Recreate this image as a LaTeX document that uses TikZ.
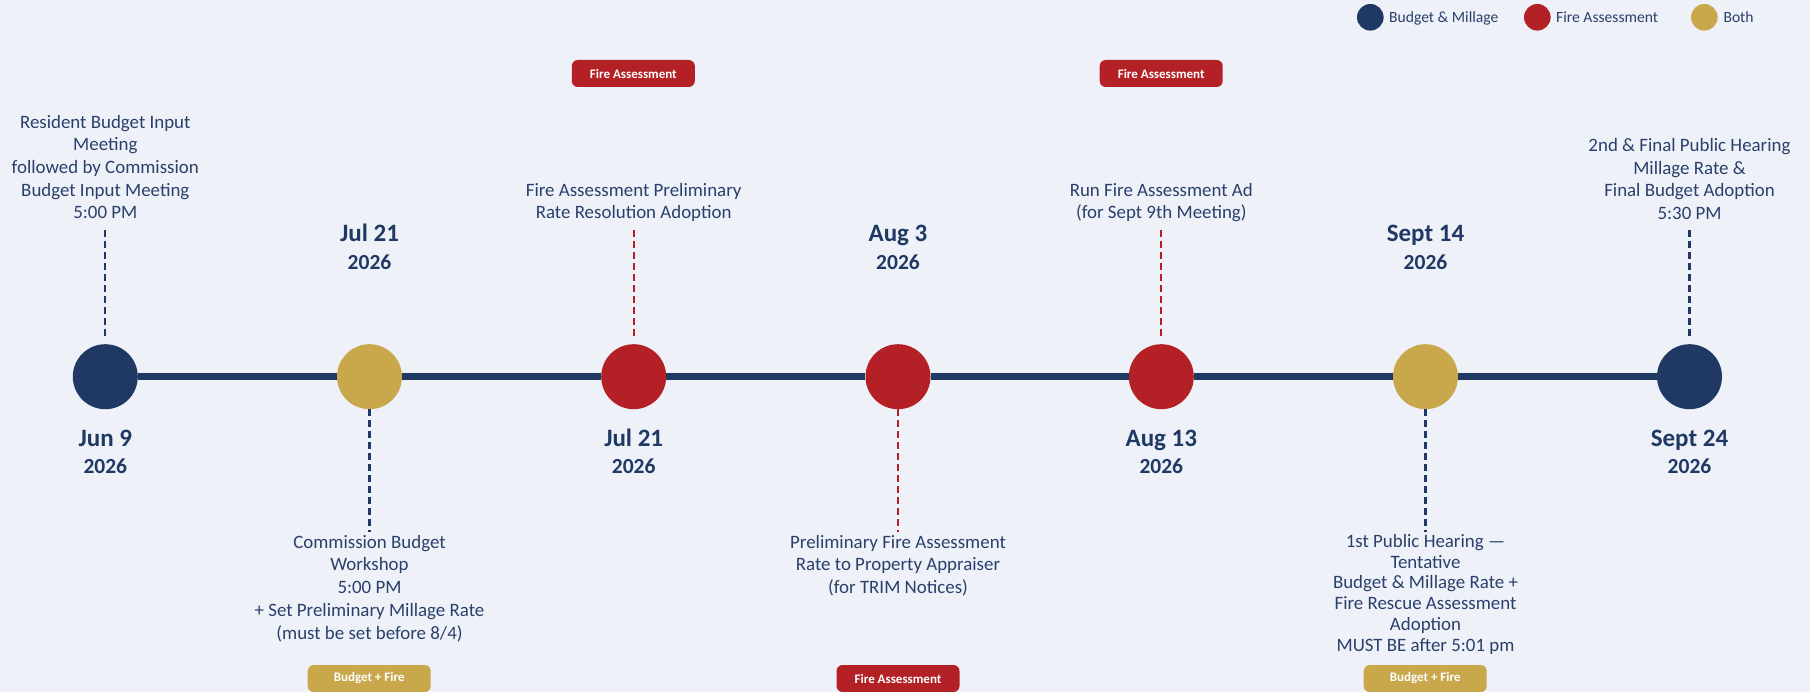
\documentclass[tikz,border=0pt]{standalone}
\usepackage{fontspec}
\setmainfont{Carlito}
\definecolor{bg}{HTML}{EEF2F8}
\definecolor{navy}{HTML}{1F3864}
\definecolor{bodyc}{HTML}{2A3F6B}
\definecolor{fire}{HTML}{B32025}
\definecolor{gold}{HTML}{C9A84C}
\begin{document}
\begin{tikzpicture}[x=1pt,y=-1pt,
  dot/.style={circle, minimum size=65pt, inner sep=0pt, draw=none},
  ldot/.style={circle, minimum size=26.6pt, inner sep=0pt, draw=none},
  body/.style={font=\fontsize{18.9}{22.7}\selectfont, text=bodyc, align=center, inner sep=0pt, anchor=base},
  legtext/.style={font=\fontsize{15.6}{18}\selectfont, text=bodyc, inner sep=0pt, anchor=base west},
  datebig/.style={font=\bfseries\fontsize{25}{30}\selectfont, text=navy, anchor=base, inner sep=0pt},
  yeartext/.style={font=\bfseries\fontsize{21.5}{26}\selectfont, text=navy, anchor=base, inner sep=0pt},
  badge/.style={rounded corners=6pt, minimum width=123pt, minimum height=27pt, inner sep=0pt, text=white, font=\bfseries\fontsize{13}{15}\selectfont},
  conn/.style={dash pattern=on 7pt off 4pt, line width=2.2pt},
  tl/.style={line width=7pt, draw=navy}
]
\useasboundingbox (0,0) rectangle (1810,692);
\fill[bg] (0,0) rectangle (1810,692);

% legend
\node[ldot, fill=navy] (l1) at (1370.3,17.3) {};
\node[legtext] (lt1) at (1389,22.5) {Budget \& Millage};
\node[ldot, fill=fire] (l2) at (1537.3,17.3) {};
\node[legtext] (lt2) at (1556,22.5) {Fire Assessment};
\node[ldot, fill=gold] (l3) at (1704.3,17.3) {};
\node[legtext] (lt3) at (1723.3,22.5) {Both};

% circles
\node[dot, fill=navy] (c0) at (105.3,376.7) {};
\node[dot, fill=gold] (c1) at (369.5,376.7) {};
\node[dot, fill=fire] (c2) at (633.7,376.7) {};
\node[dot, fill=fire] (c3) at (898,376.7) {};
\node[dot, fill=fire] (c4) at (1161.3,376.7) {};
\node[dot, fill=gold] (c5) at (1425.5,376.7) {};
\node[dot, fill=navy] (c6) at (1689.5,376.7) {};

% timeline
\draw[tl] (c0) -- (c1);
\draw[tl] (c1) -- (c2);
\draw[tl] (c2) -- (c3);
\draw[tl] (c3) -- (c4);
\draw[tl] (c4) -- (c5);
\draw[tl] (c5) -- (c6);

% dates below
\node[datebig] (d0) at (105.3,446.5) {Jun 9};
\node[yeartext] (y0) at (105.3,473.8) {2026};
\node[datebig] (d2) at (633.7,446.5) {Jul 21};
\node[yeartext] (y2) at (633.7,473.8) {2026};
\node[datebig] (d4) at (1161.3,446.5) {Aug 13};
\node[yeartext] (y4) at (1161.3,473.8) {2026};
\node[datebig] (d6) at (1689.5,446.5) {Sept 24};
\node[yeartext] (y6) at (1689.5,473.8) {2026};
% dates above
\node[datebig] (d1) at (369.5,242) {Jul 21};
\node[yeartext] (y1) at (369.5,269.3) {2026};
\node[datebig] (d3) at (898,242) {Aug 3};
\node[yeartext] (y3) at (898,269.3) {2026};
\node[datebig] (d5) at (1425.5,242) {Sept 14};
\node[yeartext] (y5) at (1425.5,269.3) {2026};

% top texts (anchor base = last line)
\node[body] (t0) at (105.3,219) {Resident Budget Input\\Meeting\\followed by Commission\\Budget Input Meeting\\5:00 PM};
\node[body] (t2) at (633.7,219) {Fire Assessment Preliminary\\Rate Resolution Adoption};
\node[body] (t4) at (1161.3,219) {Run Fire Assessment Ad\\(for Sept 9th Meeting)};
\node[body] (t6) at (1689.5,219.5) {2nd \& Final Public Hearing\\Millage Rate \&\\Final Budget Adoption\\5:30 PM};

% bottom texts
\node[body] (t1) at (369.5,639) {Commission Budget\\Workshop\\5:00 PM\\+ Set Preliminary Millage Rate\\(must be set before 8/4)};
\node[body] (t3) at (898,593.6) {Preliminary Fire Assessment\\Rate to Property Appraiser\\(for TRIM Notices)};
\node[body, font=\fontsize{18.9}{20.8}\selectfont] (t5) at (1425.5,651.2) {1st Public Hearing —\\Tentative\\Budget \& Millage Rate +\\Fire Rescue Assessment\\Adoption\\MUST BE after 5:01 pm};

% connectors
\coordinate (k0) at (105.3,230);
\coordinate (k2) at (633.7,230);
\coordinate (k4) at (1161.3,230);
\coordinate (k6) at (1689.5,230);
\coordinate (k1) at (369.5,531.5);
\coordinate (k3) at (898,531.5);
\coordinate (k5) at (1425.5,531.5);
\draw[conn, navy, shorten >=5pt] (k0) -- (c0.north);
\draw[conn, fire, shorten >=5pt] (k2) -- (c2.north);
\draw[conn, fire, shorten >=5pt] (k4) -- (c4.north);
\draw[conn, navy, shorten >=5pt] (k6) -- (c6.north);
\draw[conn, navy] (c1.south) -- (k1);
\draw[conn, fire] (c3.south) -- (k3);
\draw[conn, navy] (c5.south) -- (k5);

% badges
\node[badge, fill=fire] (b2) at (633.3,73.5) {Fire Assessment};
\node[badge, fill=fire] (b4) at (1161.2,73.5) {Fire Assessment};
\node[badge, fill=gold] (b1) at (369.2,678.5) {Budget + Fire};
\node[badge, fill=fire] (b3) at (898,678.5) {Fire Assessment};
\node[badge, fill=gold] (b5) at (1425.2,678.5) {Budget + Fire};
\end{tikzpicture}
\end{document}
